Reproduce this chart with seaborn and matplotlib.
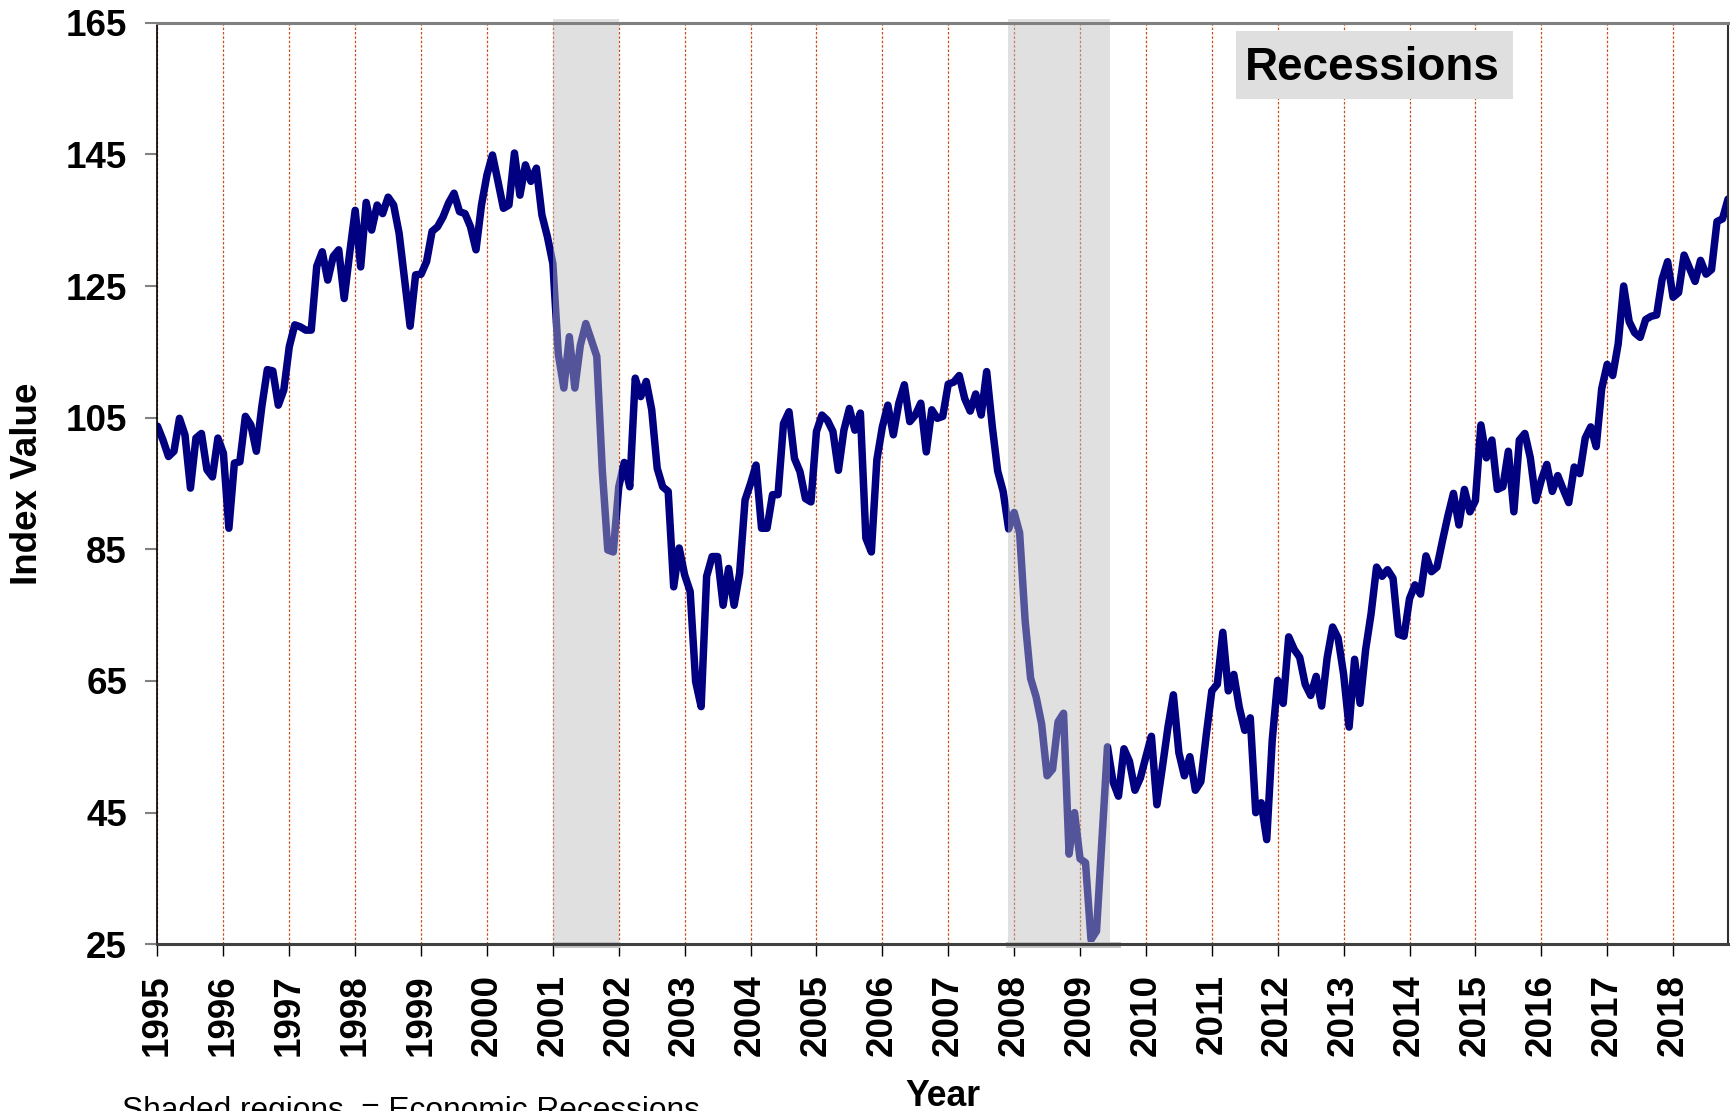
import numpy as np
import pandas as pd
import seaborn as sns
import matplotlib.pyplot as plt
from matplotlib.patches import Rectangle
import matplotlib.transforms as mtransforms

# monthly index values, Jan 1995 .. Nov 2018
start_year = 1995
idx_1995_1999 = [103.7, 101.6, 99.1, 99.9, 104.9, 102.4, 94.3, 101.9, 102.6, 97.1, 96.0, 101.9,
                 99.6, 88.2, 98.1, 98.3, 105.2, 103.9, 99.9, 106.7, 112.3, 112.1, 106.9, 109.2,
                 115.8, 119.1, 118.8, 118.3, 118.3, 128.0, 130.2, 125.9, 129.5, 130.5, 123.1, 130.0,
                 136.5, 127.9, 137.7, 133.5, 137.3, 136.0, 138.5, 137.3, 133.0, 125.9, 118.9, 126.7,
                 126.8, 128.7, 133.3, 134.0, 135.5, 137.6, 139.1, 136.3, 136.0, 134.0, 130.5, 137.3]
idx_2000_2004 = [141.9, 144.9, 140.9, 136.8, 137.3, 145.2, 138.8, 143.4, 140.9, 142.9, 135.8, 132.5,
                 128.4, 114.6, 109.5, 117.3, 109.5, 116.0, 119.3, 116.8, 114.3, 97.0, 84.9, 84.6,
                 94.5, 98.2, 94.5, 111.0, 108.2, 110.5, 106.2, 97.3, 94.5, 93.8, 79.3, 85.2,
                 81.1, 78.6, 64.9, 61.1, 80.9, 83.9, 83.9, 76.5, 82.1, 76.5, 81.3, 92.5,
                 95.0, 97.8, 88.2, 88.2, 93.3, 93.3, 104.1, 105.9, 98.8, 96.8, 92.7, 92.2]
idx_2005_2009 = [102.9, 105.4, 104.6, 102.9, 97.0, 103.1, 106.4, 103.1, 105.7, 86.7, 84.6, 98.6,
                 103.6, 106.9, 102.4, 107.2, 110.0, 104.4, 105.4, 107.2, 99.8, 106.2, 104.9, 105.2,
                 110.1, 110.4, 111.4, 107.9, 106.0, 108.6, 105.4, 112.0, 103.8, 96.9, 93.8, 88.1,
                 90.6, 87.5, 74.2, 65.4, 62.6, 58.5, 50.6, 51.6, 58.8, 60.1, 38.7, 45.0,
                 38.0, 37.4, 25.7, 27.0, 41.0, 55.0, 49.7, 47.5, 54.7, 52.8, 48.4, 50.3]
idx_2010_2014 = [53.5, 56.6, 46.2, 51.9, 57.9, 62.9, 54.1, 50.6, 53.5, 48.4, 49.7, 56.9,
                 63.5, 64.5, 72.4, 63.5, 66.0, 61.0, 57.5, 59.4, 45.0, 46.5, 40.9, 56.0,
                 65.1, 61.6, 71.7, 69.8, 68.6, 64.5, 62.8, 65.7, 61.2, 68.5, 73.2, 71.5,
                 66.0, 58.0, 68.3, 61.6, 69.7, 75.2, 82.3, 80.9, 81.9, 80.6, 72.1, 71.8,
                 77.5, 79.6, 78.2, 84.0, 81.6, 82.3, 86.3, 90.1, 93.5, 88.7, 94.1, 90.7]
idx_2015_2018 = [92.4, 103.9, 98.9, 101.6, 94.1, 94.5, 99.9, 90.7, 101.6, 102.6, 98.9, 92.4,
                 95.5, 97.9, 93.8, 96.2, 94.1, 92.1, 97.5, 96.5, 101.9, 103.6, 100.6, 109.4,
                 113.1, 111.4, 116.2, 125.0, 119.6, 117.9, 117.2, 119.9, 120.4, 120.6, 126.0, 128.7,
                 123.3, 124.0, 129.7, 127.7, 125.7, 128.9, 126.8, 127.5, 134.8, 135.2, 138.2]

# recession periods (decimal years)
recessions = [(2001.0, 2002.0), (2007.9, 2009.46)]
recession_strips = [(2001.01, 2002.02), (2007.87, 2009.62)]

year_ticks = list(range(1995, 2019))
value_ticks = [25, 45, 65, 85, 105, 125, 145, 165]

values = idx_1995_1999 + idx_2000_2004 + idx_2005_2009 + idx_2010_2014 + idx_2015_2018
df = pd.DataFrame({'year': start_year + np.arange(len(values)) / 12.0, 'index': values})

sns.set_style('white')
plt.rcParams['font.family'] = ['Liberation Sans', 'DejaVu Sans']
plt.rcParams['text.color'] = 'black'
plt.rcParams['axes.labelcolor'] = 'black'
plt.rcParams['xtick.labelcolor'] = 'black'
plt.rcParams['ytick.labelcolor'] = 'black'

W, H = 1733, 1111
fig = plt.figure(figsize=(W / 100, H / 100), dpi=100)
ax = fig.add_axes([157.5 / W, 1 - 944.3 / H, (1728 - 157.5) / W, (944.3 - 22.7) / H])

sns.lineplot(data=df, x='year', y='index', ax=ax, color='#000080', lw=5.4, zorder=2)

# shaded recessions, drawn over the line so it shows lighter inside
for x0, x1 in recessions:
    ax.axvspan(x0, x1, ymin=0, ymax=1.0045, color='#BBBBBB', alpha=0.455, lw=0, zorder=3, clip_on=False)
trans = mtransforms.blended_transform_factory(ax.transData, ax.transAxes)
for x0, x1 in recession_strips:
    ax.add_patch(Rectangle((x0, -0.0035), x1 - x0, 0.0065, transform=trans, color='#C4C4C4',
                           lw=0, zorder=4, clip_on=False))

ax.set_xlim(start_year, start_year + (len(values) - 1) / 12.0)
ax.set_ylim(25, 165)
ax.set_xticks(year_ticks)
ax.set_xticklabels([str(y) for y in year_ticks], rotation=90, fontsize=26.5, fontweight='bold',
                   color='black')
ax.set_yticks(value_ticks)
ax.set_yticklabels([str(v) for v in value_ticks], fontsize=26.5, fontweight='bold', color='black')
ax.tick_params(axis='x', direction='out', length=8.6, width=1, color='black', pad=13, bottom=True)
ax.tick_params(axis='y', direction='out', length=8.4, width=1.5, color='#808080', pad=13.5, left=True)

ax.xaxis.grid(True, color='#C8501E', linestyle=(0, (2, 1.5)), lw=0.9)
ax.yaxis.grid(False)
ax.set_axisbelow(True)
ax.set_xlabel('')
ax.set_ylabel('')

ax.spines['left'].set_color('black')
ax.spines['left'].set_linewidth(1.2)
ax.spines['right'].set_color('#303030')
ax.spines['right'].set_linewidth(1.5)
ax.spines['bottom'].set_color('#404040')
ax.spines['bottom'].set_linewidth(2.2)
ax.spines['top'].set_color('#808080')
ax.spines['top'].set_linewidth(2.2)
for s in ax.spines.values():
    s.set_zorder(5)

# "Recessions" box
fig.patches.append(Rectangle((1236 / W, 1 - 99 / H), 277 / W, 68 / H, transform=fig.transFigure,
                             facecolor='#DFDFDF', edgecolor='none', zorder=5))
fig.text(1372 / W, 1 - 80 / H, 'Recessions', fontsize=33, fontweight='bold', color='black',
         ha='center', va='baseline', zorder=6)

fig.text(27.6 / W, 0.5 * (1 - 22.7 / H + 1 - 944.3 / H), 'Index Value', rotation=90,
         fontsize=26.5, fontweight='bold', color='black', ha='center', va='center')
fig.text(943 / W, 1 - 1105.6 / H, 'Year', fontsize=25.7, fontweight='bold', color='black',
         ha='center', va='baseline')
# the reference clips this note at the bottom edge of the image
fig.text(122 / W, 1 - 1119.4 / H, 'Shaded regions  = Economic Recessions', fontsize=22.8,
         color='black', ha='left', va='baseline')

fig.savefig('out.png', dpi=100)
